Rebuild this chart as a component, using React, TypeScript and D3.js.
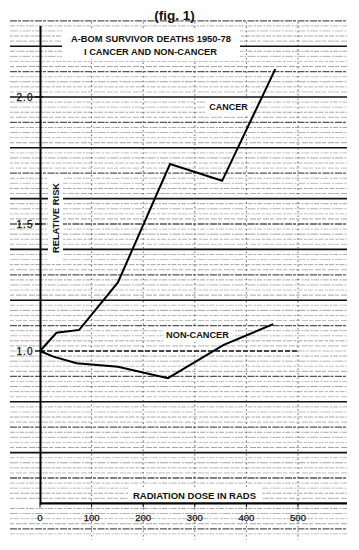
import React from "react";
import * as d3 from "d3";

const cancerDose = [0, 32, 76, 151, 252, 353, 456];
const cancerRisk = [1.0, 1.072, 1.083, 1.27, 1.736, 1.67, 2.11];
const nonCancerDose = [0, 26, 71, 151, 248, 356, 452];
const nonCancerRisk = [1.0, 0.978, 0.952, 0.938, 0.893, 1.024, 1.106];
const xTicks = [0, 100, 200, 300, 400, 500];
const yTickLabels = ["1.0", "1.5", "2.0"];
const yTickValues = [1.0, 1.5, 2.0];

const W = 359;
const H = 550;

export default function App() {
  const x = d3.scaleLinear().domain([0, 500]).range([40, 298]);
  const y = d3.scaleLinear().domain([1, 2]).range([351, 97]);
  const gridLeft = 10;
  const gridRight = 347;
  const axisY = y(0.4);
  const axisTop = y(2.28);

  const line = d3
    .line<[number, number]>()
    .x((d) => x(d[0]))
    .y((d) => y(d[1]));

  const cancerPts: [number, number][] = cancerDose.map((d, i) => [d, cancerRisk[i]]);
  const nonPts: [number, number][] = nonCancerDose.map((d, i) => [d, nonCancerRisk[i]]);

  const minor: number[] = d3.range(0, 102).map((i) => +(0.28 + i * 0.02).toFixed(2));
  const dashPatterns = ["5 1.5 2 1", "7 1 3 1.5", "4 2 6 1", "3 1 5 1.5", "8 1.5 2 1"];

  const fontFamily = "'Liberation Sans', Arial, sans-serif";

  return (
    <svg width={W} height={H} style={{ display: "block", position: "absolute", left: 0, top: 0 }}>
      <rect x={0} y={0} width={W} height={H} fill="#fff" />
      {minor.map((v, i) => {
        const isMajor = Math.abs((v * 10) % 2) < 0.01 || Math.abs((v * 10) % 2 - 2) < 0.01;
        const isMid = !isMajor && (Math.abs((v * 100) % 10) < 0.5 || Math.abs((v * 100) % 10 - 10) < 0.5);
        if (isMajor && v >= 0.4 && v <= 2.2 && Math.abs(v - 1) > 0.01) return null;
        return (
          <line
            key={"m" + i}
            x1={gridLeft}
            x2={gridRight}
            y1={y(v)}
            y2={y(v)}
            stroke={isMid ? "#444" : "#777"}
            strokeWidth={isMid ? 1.3 : 0.8}
            strokeDasharray={dashPatterns[i % dashPatterns.length]}
            opacity={isMid ? 0.9 : 0.6 + (i % 3) * 0.12}
          />
        );
      })}
      {d3.range(0, 10).map((i) => {
        const v = +(0.4 + i * 0.2).toFixed(1);
        if (Math.abs(v - 1) < 0.01 || Math.abs(v - 0.4) < 0.01) return null;
        return (
          <line
            key={"M" + i}
            x1={gridLeft}
            x2={gridRight}
            y1={y(v)}
            y2={y(v)}
            stroke="#111"
            strokeWidth={1.6}
          />
        );
      })}
      {xTicks.slice(1).map((t) => (
        <line
          key={"v" + t}
          x1={x(t)}
          x2={x(t)}
          y1={22}
          y2={540}
          stroke="#555"
          strokeWidth={0.9}
          strokeDasharray="1.5 3"
        />
      ))}
      <rect x={62} y={28} width={178} height={31} fill="#fff" />
      <rect x={205} y={99} width={46} height={15} fill="#fff" />
      <rect x={163} y={327} width={70} height={15} fill="#fff" />
      <rect x={48} y={176} width={15} height={84} fill="#fff" />
      <rect x={128} y={487} width={134} height={15} fill="#fff" />

      <line
        x1={x(0)}
        x2={x(500)}
        y1={y(1)}
        y2={y(1)}
        stroke="#111"
        strokeWidth={1.6}
        strokeDasharray="5 2"
      />

      <line x1={40.5} x2={40.5} y1={axisTop} y2={axisY + 1} stroke="#000" strokeWidth={2} />
      <line x1={40} x2={gridRight} y1={axisY} y2={axisY} stroke="#000" strokeWidth={2.4} />
      {xTicks.map((t) => (
        <g key={"xt" + t}>
          <line x1={x(t)} x2={x(t)} y1={axisY} y2={axisY + 4} stroke="#000" strokeWidth={1} />
          <text
            x={x(t)}
            y={521}
            textAnchor="middle"
            fontFamily={fontFamily}
            fontSize={9.5}
            fill="#111"
            stroke="#111"
            strokeWidth={0.25}
          >
            {String(t)}
          </text>
        </g>
      ))}
      {yTickValues.map((v, i) => (
        <g key={"yt" + v}>
          <line x1={35} x2={43} y1={y(v)} y2={y(v)} stroke="#000" strokeWidth={1.2} />
          <text
            x={25}
            y={y(v) + 3.5}
            textAnchor="middle"
            fontFamily={fontFamily}
            fontSize={10}
            letterSpacing={1}
            fill="#111"
            stroke="#111"
            strokeWidth={0.25}
          >
            {yTickLabels[i]}
          </text>
        </g>
      ))}

      <path d={line(cancerPts) || ""} fill="none" stroke="#000" strokeWidth={2} strokeLinejoin="miter" />
      <path d={line(nonPts) || ""} fill="none" stroke="#000" strokeWidth={2} strokeLinejoin="miter" />

      <text x={174.5} y={20} textAnchor="middle" fontFamily={fontFamily} fontWeight="bold" fontSize={13.5} fill="#111">
        (fig. 1)
      </text>
      <text x={71} y={41.7} fontFamily={fontFamily} fontWeight="bold" fontSize={9.5} textLength={160} lengthAdjust="spacingAndGlyphs" fill="#111">
        A-BOM SURVIVOR DEATHS 1950-78
      </text>
      <text x={84} y={54.5} fontFamily={fontFamily} fontWeight="bold" fontSize={9.5} textLength={133} lengthAdjust="spacingAndGlyphs" fill="#111">
        I CANCER AND NON-CANCER
      </text>
      <text x={228.5} y={109.5} textAnchor="middle" fontFamily={fontFamily} fontWeight="bold" fontSize={9} fill="#111">
        CANCER
      </text>
      <text x={197.5} y={337.5} textAnchor="middle" fontFamily={fontFamily} fontWeight="bold" fontSize={9.2} fill="#111">
        NON-CANCER
      </text>
      <text
        transform={`translate(59,218) rotate(-90)`}
        textAnchor="middle"
        fontFamily={fontFamily}
        fontWeight="bold"
        fontSize={9.3}
        fill="#111"
      >
        RELATIVE RISK
      </text>
      <text x={194.5} y={498.5} textAnchor="middle" fontFamily={fontFamily} fontWeight="bold" fontSize={9.5} textLength={123} lengthAdjust="spacing" fill="#111">
        RADIATION DOSE IN RADS
      </text>
    </svg>
  );
}
